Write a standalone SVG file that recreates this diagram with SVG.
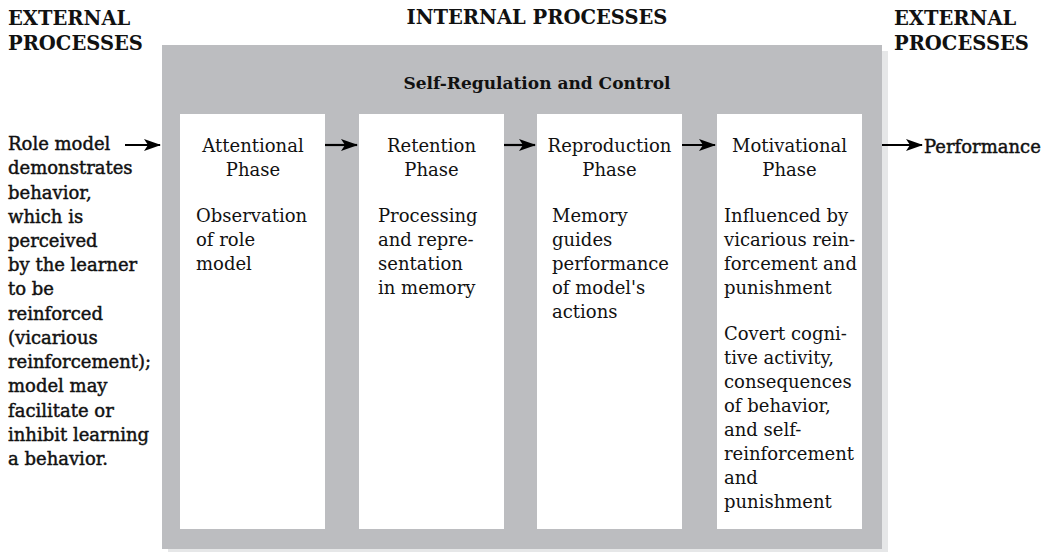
<svg xmlns="http://www.w3.org/2000/svg" width="1043" height="552" viewBox="0 0 1043 552">
<style>
.t{font-family:"DejaVu Serif","Liberation Serif",serif;font-size:18px;fill:#111;}
.w{stroke:#111;stroke-width:0.45;}
.c{text-anchor:middle;}
.h{font-family:"DejaVu Serif","Liberation Serif",serif;font-size:19.5px;font-weight:bold;fill:#111;}
.s{font-family:"DejaVu Serif","Liberation Serif",serif;font-size:17px;font-weight:bold;fill:#111;}
.box{fill:#ffffff;}
.conn{stroke:#000;stroke-width:2.2;fill:none;marker-end:url(#ah);}
</style>
<defs>
<marker id="ah" markerUnits="userSpaceOnUse" markerWidth="18" markerHeight="14" refX="16" refY="7" orient="auto">
<path d="M0,1 L17,7 L0,13 L4,7 Z" fill="#000"/>
</marker>
</defs>
<rect width="1043" height="552" fill="#fff"/>
<g id="headers">
<text class="h" x="8" y="25">EXTERNAL</text>
<text class="h" x="8" y="50">PROCESSES</text>
<text class="h c" x="537" y="24">INTERNAL PROCESSES</text>
<text class="h" x="894" y="25">EXTERNAL</text>
<text class="h" x="894" y="50">PROCESSES</text>
</g>
<g id="frame">
<rect x="168" y="51" width="720" height="501" fill="#e6e7e8"/>
<rect x="162" y="45" width="720" height="504" fill="#bcbdc0"/>
<text class="s c" x="537" y="89">Self-Regulation and Control</text>
</g>
<g id="external-input">
<text class="t w" x="8">
<tspan x="8" y="150">Role model</tspan>
<tspan x="8" y="174.2">demonstrates</tspan>
<tspan x="8" y="198.5">behavior,</tspan>
<tspan x="8" y="222.7">which is</tspan>
<tspan x="8" y="246.9">perceived</tspan>
<tspan x="8" y="271.2">by the learner</tspan>
<tspan x="8" y="295.4">to be</tspan>
<tspan x="8" y="319.6">reinforced</tspan>
<tspan x="8" y="343.8">(vicarious</tspan>
<tspan x="8" y="368.1">reinforcement);</tspan>
<tspan x="8" y="392.3">model may</tspan>
<tspan x="8" y="416.5">facilitate or</tspan>
<tspan x="8" y="440.8">inhibit learning</tspan>
<tspan x="8" y="465">a behavior.</tspan>
</text>
</g>
<g id="attentional">
<rect class="box" x="180" y="114" width="145" height="415"/>
<text class="t c" x="253" y="152">Attentional</text>
<text class="t c" x="253" y="176">Phase</text>
<text class="t"><tspan x="196" y="222">Observation</tspan><tspan x="196" y="246">of role</tspan><tspan x="196" y="270">model</tspan></text>
</g>
<g id="retention">
<rect class="box" x="359" y="114" width="145" height="415"/>
<text class="t c" x="431.5" y="152">Retention</text>
<text class="t c" x="431.5" y="176">Phase</text>
<text class="t"><tspan x="378" y="222">Processing</tspan><tspan x="378" y="246">and repre-</tspan><tspan x="378" y="270">sentation</tspan><tspan x="378" y="294">in memory</tspan></text>
</g>
<g id="reproduction">
<rect class="box" x="537" y="114" width="145" height="415"/>
<text class="t c" x="609.5" y="152">Reproduction</text>
<text class="t c" x="609.5" y="176">Phase</text>
<text class="t"><tspan x="552" y="222">Memory</tspan><tspan x="552" y="246">guides</tspan><tspan x="552" y="270">performance</tspan><tspan x="552" y="294">of model's</tspan><tspan x="552" y="318">actions</tspan></text>
</g>
<g id="motivational">
<rect class="box" x="717" y="114" width="145" height="415"/>
<text class="t c" x="789.5" y="152">Motivational</text>
<text class="t c" x="789.5" y="176">Phase</text>
<text class="t"><tspan x="724" y="222">Influenced by</tspan><tspan x="724" y="246">vicarious rein-</tspan><tspan x="724" y="270">forcement and</tspan><tspan x="724" y="294">punishment</tspan><tspan x="724" y="340">Covert cogni-</tspan><tspan x="724" y="364">tive activity,</tspan><tspan x="724" y="388">consequences</tspan><tspan x="724" y="412">of behavior,</tspan><tspan x="724" y="436">and self-</tspan><tspan x="724" y="460">reinforcement</tspan><tspan x="724" y="484">and</tspan><tspan x="724" y="508">punishment</tspan></text>
</g>
<g id="performance">
<text class="t w" x="924" y="153">Performance</text>
</g>
<g id="connectors">
<line class="conn" x1="125" y1="145" x2="160" y2="145"/>
<line class="conn" x1="325" y1="145" x2="357" y2="145"/>
<line class="conn" x1="504" y1="145" x2="535" y2="145"/>
<line class="conn" x1="682" y1="145" x2="715" y2="145"/>
<line class="conn" x1="882" y1="145" x2="922" y2="145"/>
</g>
</svg>
